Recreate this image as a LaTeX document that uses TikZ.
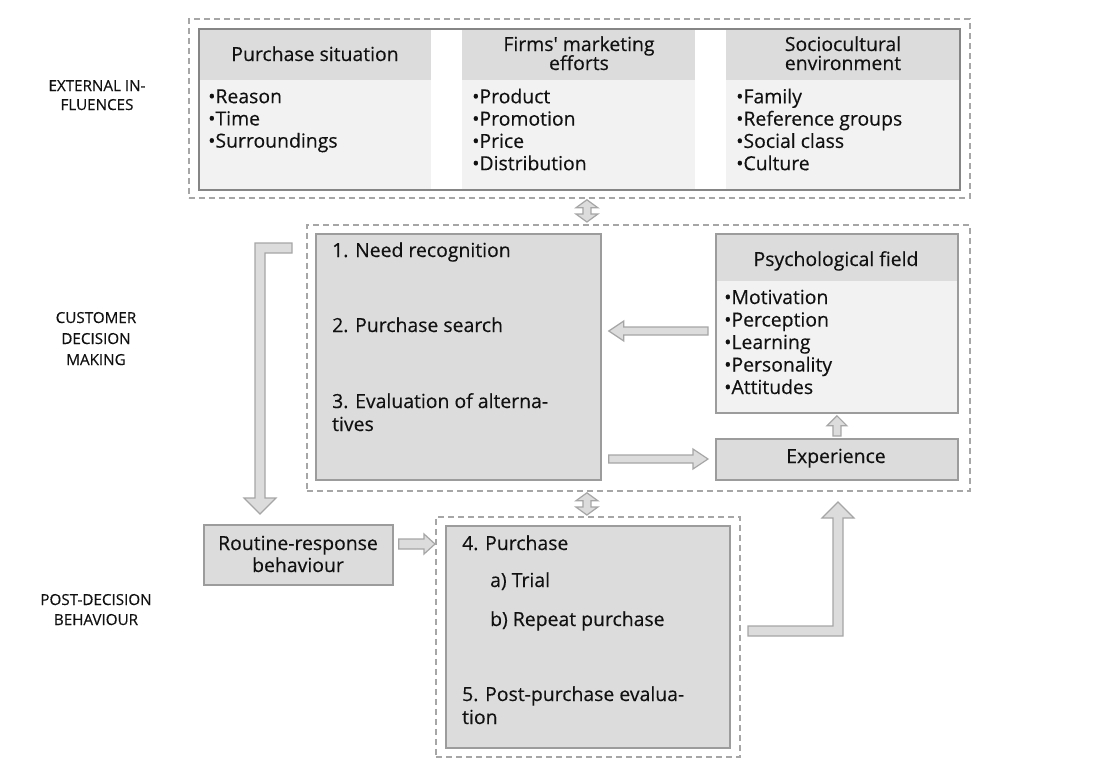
\documentclass[tikz,border=0pt]{standalone}
\usepackage{fontspec}
\setmainfont{Open Sans}
\newfontfamily\txtfont{Open Sans}[FakeBold=0.3]
\usetikzlibrary{calc}
\definecolor{boxfill}{HTML}{DCDCDC}
\definecolor{lightfill}{HTML}{F2F2F2}
\definecolor{boxedge}{HTML}{9C9C9C}
\definecolor{topedge}{HTML}{858585}
\definecolor{dashedge}{HTML}{A6A6A6}
\definecolor{arrfill}{HTML}{DCDCDC}
\definecolor{arredge}{HTML}{A6A6A6}
\definecolor{txt}{HTML}{111111}
\tikzset{
  dashbox/.style={draw=dashedge, line width=1.8pt, dash pattern=on 6pt off 4pt, inner sep=0, anchor=north west},
  solidbox/.style={draw=boxedge, fill=boxfill, line width=1.8pt, inner sep=0, anchor=north west},
  band/.style={fill=#1, inner sep=0, anchor=north west, draw=none},
  fatarrow/.style={draw=arredge, fill=arrfill, line width=1.2pt, line join=miter},
  tl/.style={text=txt, font=\txtfont\fontsize{19.4}{22}\selectfont, inner sep=0, anchor=base west},
  tc/.style={text=txt, font=\txtfont\fontsize{19.4}{22}\selectfont, inner sep=0, anchor=base},
  side/.style={text=txt, font=\txtfont\fontsize{15.2}{20}\selectfont, inner sep=0, anchor=base},
}
% horizontal fat arrow: tail, tip, body half, head half, head length
\newcommand\hfat[5]{%
  \draw[fatarrow] let \p1=(#1),\p2=(#2),\n1={sign(\x2-\x1)} in
    (\x1,{\y1+#3}) -- ({\x2-\n1*#5},{\y1+#3}) -- ({\x2-\n1*#5},{\y1+#4}) -- (\x2,\y1)
    -- ({\x2-\n1*#5},{\y1-#4}) -- ({\x2-\n1*#5},{\y1-#3}) -- (\x1,{\y1-#3}) -- cycle;}
% vertical fat arrow
\newcommand\vfat[5]{%
  \draw[fatarrow] let \p1=(#1),\p2=(#2),\n1={sign(\y2-\y1)} in
    ({\x1+#3},\y1) -- ({\x1+#3},{\y2-\n1*#5}) -- ({\x1+#4},{\y2-\n1*#5}) -- (\x1,\y2)
    -- ({\x1-#4},{\y2-\n1*#5}) -- ({\x1-#3},{\y2-\n1*#5}) -- ({\x1-#3},\y1) -- cycle;}
% vertical double-headed fat arrow
\newcommand\vdfat[5]{%
  \draw[fatarrow] let \p1=(#1),\p2=(#2),\n1={sign(\y2-\y1)} in
    (\x1,\y1) -- ({\x1+#4},{\y1+\n1*#5}) -- ({\x1+#3},{\y1+\n1*#5}) -- ({\x1+#3},{\y2-\n1*#5})
    -- ({\x1+#4},{\y2-\n1*#5}) -- (\x1,\y2) -- ({\x1-#4},{\y2-\n1*#5}) -- ({\x1-#3},{\y2-\n1*#5})
    -- ({\x1-#3},{\y1+\n1*#5}) -- ({\x1-#4},{\y1+\n1*#5}) -- cycle;}
\begin{document}
\begin{tikzpicture}[x=1pt,y=-1pt]
\useasboundingbox[fill=white] (0,0) rectangle (1116,780);

% ---------- side labels
\node[side] (lab1a) at (97,91) {EXTERNAL IN-};
\node[side] (lab1b) at (97,110) {FLUENCES};
\node[side] (lab2a) at (96,323) {CUSTOMER};
\node[side] (lab2b) at (96,344) {DECISION};
\node[side] (lab2c) at (96,365) {MAKING};
\node[side] (lab3a) at (96,605) {POST-DECISION};
\node[side] (lab3b) at (96,625) {BEHAVIOUR};

% ---------- external influences
\node[dashbox, minimum width=781pt, minimum height=179pt] (extdash) at (188,18) {};
\node[band=white, minimum width=761pt, minimum height=161pt] (extbg) at (198,28) {};
\foreach \i/\x in {1/198,2/462,3/726}{
  \node[band=boxfill, minimum width=233pt, minimum height=52pt] (head\i) at (\x,28) {};
  \node[band=lightfill, minimum width=233pt, minimum height=109pt] (body\i) at (\x,80) {};
}
\node[draw=topedge, line width=1.8pt, inner sep=0, anchor=north west, minimum width=761pt, minimum height=161pt] (ext) at (198,28) {};
\node[tc] (h1) at (315,61) {Purchase situation};
\node[tc] (h2a) at (579,51) {Firms{\char"27} marketing};
\node[tc] (h2b) at (579,70) {efforts};
\node[tc] (h3a) at (843,51) {Sociocultural};
\node[tc] (h3b) at (843,70) {environment};
\foreach \t [count=\k] in {Reason,Time,Surroundings}
  \node[tl] (c1-\k) at (208,{81+22.2*\k}) {•\t};
\foreach \t [count=\k] in {Product,Promotion,Price,Distribution}
  \node[tl] (c2-\k) at (472,{81+22.3*\k}) {•\t};
\foreach \t [count=\k] in {Family,Reference groups,Social class,Culture}
  \node[tl] (c3-\k) at (736,{81+22.3*\k}) {•\t};

% ---------- customer decision making
\node[dashbox, minimum width=663pt, minimum height=266pt] (cdm) at (306,224) {};
\node[solidbox, minimum width=285pt, minimum height=246pt] (steps) at (315,233) {};
\node[tl] (s1) at (332,257) {1. Need recognition};
\node[tl] (s2) at (332,332) {2. Purchase search};
\node[tl] (s3a) at (332,408) {3. Evaluation of alterna-};
\node[tl] (s3b) at (332,431) {tives};

\node[band=boxfill, minimum width=242pt, minimum height=48pt] (psyhead) at (715,233) {};
\node[band=lightfill, minimum width=242pt, minimum height=131pt] (psybody) at (715,281) {};
\node[draw=boxedge, line width=1.8pt, inner sep=0, anchor=north west, minimum width=242pt, minimum height=179pt] (psy) at (715,233) {};
\node[tc] (psyt) at (836,266) {Psychological field};
\foreach \t [count=\k] in {Motivation,Perception,Learning,Personality,Attitudes}
  \node[tl] (p-\k) at (724,{281.5+22.5*\k}) {•\t};

\node[solidbox, minimum width=242pt, minimum height=41pt] (exp) at (715,438) {};
\node[tc] (expt) at (836,463) {Experience};

% ---------- post-decision behaviour
\node[solidbox, minimum width=189pt, minimum height=60pt] (routine) at (203,524) {};
\node[tc] (r1) at (298,550) {Routine-response};
\node[tc] (r2) at (298,572) {behaviour};

\node[dashbox, minimum width=304pt, minimum height=240pt] (pdb) at (435,516) {};
\node[solidbox, minimum width=284pt, minimum height=222pt] (purch) at (445,525) {};
\node[tl] (u1) at (462,550) {4. Purchase};
\node[tl] (u2) at (490,587) {a) Trial};
\node[tl] (u3) at (490,626) {b) Repeat purchase};
\node[tl] (u4) at (462,701) {5. Post-purchase evalua-};
\node[tl] (u5) at (462,724) {tion};

% ---------- connectors
\coordinate (dA1) at ($(extdash.south)+(586-578.5,1)$);
\coordinate (dA2) at ($(cdm.north)+(586-637.5,-2)$);
\vdfat{dA1}{dA2}{4pt}{11pt}{8pt}
\coordinate (dB1) at ($(cdm.south)+(586-637.5,1)$);
\coordinate (dB2) at ($(pdb.north)+(586-587,-1)$);
\vdfat{dB1}{dB2}{4pt}{11pt}{8pt}

\coordinate (psyTail) at ($(psy.west|-0,331)+(-7,0)$);
\coordinate (stepsTip) at ($(steps.east|-0,331)+(7,0)$);
\hfat{psyTail}{stepsTip}{4pt}{10pt}{15pt}

\coordinate (stepsTail) at ($(steps.east|-0,459)+(7,0)$);
\coordinate (expTip) at ($(exp.west|-0,459)+(-7,0)$);
\hfat{stepsTail}{expTip}{4pt}{10pt}{15pt}

\coordinate (expTail) at ($(exp.north)+(0,-2)$);
\coordinate (psyTip) at ($(psy.south)+(0,2)$);
\vfat{expTail}{psyTip}{4pt}{10pt}{10pt}

\coordinate (rTail) at ($(routine.east|-0,544)+(5,0)$);
\coordinate (rTip) at ($(pdb.west|-0,544)$);
\hfat{rTail}{rTip}{5pt}{10pt}{11pt}

% L-shaped arrows
\draw[fatarrow] (292,243) -- (255,243) -- (255,498) -- (244,498) -- (260,514)
  -- (276,498) -- (265,498) -- (265,253) -- (292,253) -- cycle;
\draw[fatarrow] (748,636) -- (843,636) -- (843,518) -- (854,518) -- (838,502)
  -- (822,518) -- (833,518) -- (833,626) -- (748,626) -- cycle;
\end{tikzpicture}
\end{document}
